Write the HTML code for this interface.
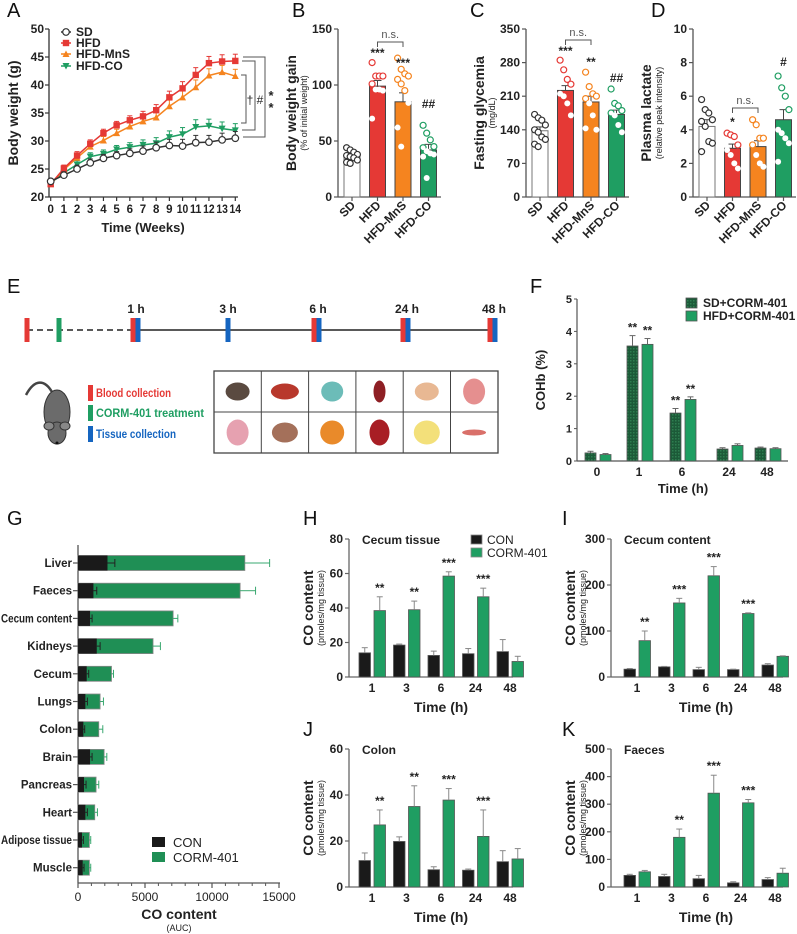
<!DOCTYPE html>
<html><head><meta charset="utf-8"><style>
html,body{margin:0;padding:0;background:#fff;}
svg{display:block;font-family:"Liberation Sans",Arial,sans-serif;}
</style></head><body>
<svg id="fig" width="797" height="934" viewBox="0 0 797 934" xmlns="http://www.w3.org/2000/svg"></svg>
<script>
// ---------- DATA ----------
const weeks=[0,1,2,3,4,5,6,7,8,9,10,11,12,13,14];
const aSD=[22.8,23.9,25.0,26.1,26.9,27.4,27.8,28.2,28.8,29.2,29.1,29.7,29.8,30.2,30.5];
const aHFD=[22.3,25.1,27.4,29.5,31.4,32.8,33.7,34.4,35.5,37.8,39.4,41.8,43.9,44.2,44.3];
const aMnS=[22.3,24.9,27.0,29.0,30.1,31.4,32.6,33.5,34.2,36.2,37.8,39.6,41.7,42.3,41.6];
const aCO=[22.5,24.3,25.8,27.2,27.7,28.5,28.9,29.3,29.6,30.7,31.2,32.5,32.7,32.2,31.9];
const aErr=[0.4,0.6,0.7,0.7,0.7,0.7,0.8,0.9,1.0,1.1,1.2,1.3,1.2,1.2,1.2];
const aTicksY=[20,25,30,35,40,45,50];
const groups4=["SD","HFD","HFD-MnS","HFD-CO"];
const bMeans=[36,99,85,42];
const bErr=[3,5,8,5];
const bPts=[[44,42,40,38,37,36,35,33,31,30],[120,108,108,108,101,96,96,95,70],[124,114,110,108,105,101,95,84,62,45],[64,57,51,45,44,41,39,38,36,17]];
const bTicks=[0,50,100,150];
const cMeans=[138,222,198,172];
const cErr=[8,10,12,9];
const cPts=[[172,165,160,150,140,135,125,120,110,105],[285,265,245,235,215,210,195,170],[260,230,215,210,205,195,170,140,143],[225,195,190,180,175,170,150,135]];
const cTicks=[0,70,140,210,280,350];
const dMeans=[4.2,2.9,3.0,4.6];
const dErr=[0.4,0.25,0.35,0.6];
const dPts=[[5.8,5.2,5.0,4.6,4.5,4.2,3.3,3.2,2.7],[3.8,3.7,3.6,3.1,2.8,2.5,2.0,1.7],[4.6,4.3,3.5,3.5,3.1,2.5,2.0,1.8],[7.2,6.5,6.0,5.2,4.0,3.8,3.5,3.2,2.1]];
const dTicks=[0,2,4,6,8,10];
const fTimes=["0","1","6","24","48"];
const fSD=[0.25,3.55,1.48,0.37,0.40];
const fSDerr=[0.05,0.32,0.14,0.04,0.03];
const fHFD=[0.20,3.60,1.90,0.48,0.38];
const fHFDerr=[0.03,0.18,0.08,0.05,0.03];
const fTicks=[0,1,2,3,4,5];
const gOrgans=["Liver","Faeces","Cecum content","Kidneys","Cecum","Lungs","Colon","Brain","Pancreas","Heart","Adipose tissue","Muscle"];
const gCON=[2200,1150,900,1400,650,550,400,900,450,550,300,350];
const gCONerr=[550,250,150,250,150,150,100,150,150,150,100,100];
const gTotal=[12450,12100,7100,5600,2500,1650,1550,1950,1350,1250,850,850];
const gTotErr=[1850,1150,350,550,150,250,300,200,200,200,100,100];
const gTicks=[0,5000,10000,15000];
const hrs=["1","3","6","24","48"];
const hCON=[14,18.5,12.5,13.5,14.7], hCONe=[3,0.6,2.5,3,7];
const hCORM=[38.5,39,58.5,46.5,9], hCORMe=[8,5,2.5,5,3];
const hStars=["**","**","***","***",""];
const iCON=[17,22,16,16,26], iCONe=[1.5,1,5,1,3];
const iCORM=[79,161,220,138,45], iCORMe=[21,10,20,1.5,1];
const iStars=["**","***","***","***",""];
const jCON=[11.5,19.8,7.5,7.3,11], jCONe=[3.3,2,1.3,0.5,4.8];
const jCORM=[27,35,37.8,22,12.2], jCORMe=[6.5,9,5,11.5,4.5];
const jStars=["**","**","***","***",""];
const kCON=[42,38,30,15,27], kCONe=[4,8,12,4,7];
const kCORM=[55,180,340,305,50], kCORMe=[5,30,65,12,18];
const kStars=["","**","***","***",""];

const RED="#e53935",ORG="#f5841f",GRN="#1f9e62",DGR="#1c5a38",BLK="#1a1a1a",GRY="#888";
const NS="http://www.w3.org/2000/svg";
const svg=document.getElementById('fig');
function mk(tag,attrs,parent){const e=document.createElementNS(NS,tag);for(const k in attrs)e.setAttribute(k,attrs[k]);(parent||svg).appendChild(e);return e;}
function txt(x,y,s,size,opts,parent){opts=opts||{};const e=mk('text',{x:x,y:y,'font-size':size,'font-weight':opts.w||'bold','text-anchor':opts.a||'middle',fill:opts.fill||'#222'},parent);if(opts.rot!==undefined)e.setAttribute('transform','rotate('+opts.rot+' '+x+' '+y+')');e.textContent=s;if(opts.max){const L=e.getComputedTextLength();if(L>opts.max){e.setAttribute('textLength',opts.max);e.setAttribute('lengthAdjust','spacingAndGlyphs');}}return e;}
function line(x1,y1,x2,y2,stroke,w,parent){return mk('line',{x1:x1,y1:y1,x2:x2,y2:y2,stroke:stroke||'#444','stroke-width':w||1.2},parent);}
function grp(name){const g=mk('g',{});return g;}
function label(ch,x,y){const t=txt(x,y,ch,20,{w:'normal',a:'start',fill:'#111'});}

// ---------- PANEL A ----------
(function(){
const g=grp('panel-a-body-weight');
const xA=w=>50.7+w*(184.6/14), yA=v=>197-(v-20)*5.6;
line(49,29,49,197,'#333',1.3,g);line(49,197,238,197,'#333',1.3,g);
aTicksY.forEach(v=>{line(45,yA(v),49,yA(v),'#333',1.2,g);const t=txt(44,yA(v)+4,String(v),12,{a:'end'},g);});
weeks.forEach(w=>{line(xA(w),197,xA(w),201,'#333',1.2,g);const t=txt(xA(w),213,String(w),11.5,{max:w>=10?11.5:20},g);});
const yt=txt(18,113,'Body weight (g)',14,{rot:-90},g);
const xt=txt(143,232,'Time (Weeks)',13,{},g);
const series=[[aCO,GRN,'tri-down','series-hfd-co'],[aMnS,ORG,'tri-up','series-hfd-mns'],[aHFD,RED,'square','series-hfd'],[aSD,'#333','circle','series-sd']];
series.forEach(s=>{
 const sg=mk('g',{},g);
 s[0].forEach((v,i)=>{line(xA(weeks[i]),yA(v),xA(weeks[i]),yA(v+aErr[i]),s[1],1,sg);line(xA(weeks[i])-2.5,yA(v+aErr[i]),xA(weeks[i])+2.5,yA(v+aErr[i]),s[1],1,sg);});
 mk('polyline',{points:s[0].map((v,i)=>xA(weeks[i])+','+yA(v)).join(' '),fill:'none',stroke:s[1],'stroke-width':1.5},sg);
 s[0].forEach((v,i)=>{const x=xA(weeks[i]),y=yA(v);marker(s[2],x,y,s[1],sg);});
});
function marker(type,x,y,c,p){
 if(type==='circle')mk('circle',{cx:x,cy:y,r:3.3,fill:'#fff',stroke:c,'stroke-width':1.2},p);
 else if(type==='square')mk('rect',{x:x-3.2,y:y-3.2,width:6.4,height:6.4,fill:c},p);
 else if(type==='tri-up')mk('polygon',{points:(x-3.5)+','+(y+3)+' '+(x+3.5)+','+(y+3)+' '+x+','+(y-3.5),fill:c},p);
 else mk('polygon',{points:(x-3.5)+','+(y-3)+' '+(x+3.5)+','+(y-3)+' '+x+','+(y+3.5),fill:c},p);
}
const leg=[['SD','#333','circle',32],['HFD',RED,'square',43],['HFD-MnS',ORG,'tri-up',54],['HFD-CO',GRN,'tri-down',66]];
leg.forEach(l=>{const lg=mk('g',{},g);line(61,l[3],71,l[3],l[1],1.5,lg);marker(l[2],66,l[3],l[1],lg);txt(76,l[3]+4,l[0],12,{a:'start'},lg);});
const br=mk('g',{},g);
mk('polyline',{points:'243,57 265,57 265,137 243,137',fill:'none',stroke:'#555','stroke-width':1},br);
mk('polyline',{points:'242,61 255,61 255,130 242,130',fill:'none',stroke:'#555','stroke-width':1},br);
mk('polyline',{points:'241,75 246,75 246,123 241,123',fill:'none',stroke:'#555','stroke-width':1},br);
txt(250,104,'†',12,{w:'normal'},br);txt(260,104,'#',12,{w:'normal'},br);txt(271,100,'*',13,{},br);txt(271,112,'*',13,{},br);
})();

// ---------- PANELS B C D ----------
function scatterBar(name,ax,means,errs,pts,ticks,max,ytitle,ysub,stars,ns){
 const g=grp(name);
 const y0=197,yt=29,ys=v=>y0-(v/max)*(y0-yt);
 const cols=['#fff',RED,ORG,GRN],ptc=['#333',RED,ORG,GRN];
 line(ax,yt,ax,y0,'#555',1.3,g);line(ax,y0,ax+103,y0,'#555',1.3,g);
 ticks.forEach(v=>{line(ax-4,ys(v),ax,ys(v),'#555',1.2,g);const t=txt(ax-6,ys(v)+4,String(v),12,{a:'end'},g);});
 means.forEach((m,i)=>{
  const cx=ax+14+i*25.5;
  const b=mk('rect',{x:cx-8,y:ys(m),width:16,height:y0-ys(m),fill:cols[i],stroke:i===0?'#777':'#444','stroke-width':1},g);
  
  
  line(cx,ys(m),cx,ys(m+errs[i]),'#444',1,g);line(cx-4,ys(m+errs[i]),cx+4,ys(m+errs[i]),'#444',1,g);
  pts[i].forEach((p,j)=>{const off=((j%4)-1.5)*3.6;const inside=p<m&&i>0;mk('circle',{cx:cx+off,cy:ys(p),r:3,fill:'#fff',stroke:inside?'none':ptc[i],'stroke-width':1.2},g);});
  line(cx,y0,cx,y0+4,'#555',1.2,g);
  const t=txt(cx+4,y0+9,groups4[i],12,{a:'end',rot:-45},g);
  if(stars[i]){const s=txt(cx,stars[i][1],stars[i][0],12,{},g);}
 });
 const t1=txt(ax-42,113,ytitle,14,{rot:-90},g);
 const t2=txt(ax-31,113,ysub,9,{rot:-90,w:'normal'},g);
 const x1=ax+14+ns[0]*25.5,x2=ax+14+ns[1]*25.5;
 mk('polyline',{points:x1+','+(ns[2]+5)+' '+x1+','+ns[2]+' '+x2+','+ns[2]+' '+x2+','+(ns[2]+5),fill:'none',stroke:'#555','stroke-width':1},g);
 txt((x1+x2)/2,ns[2]-4,'n.s.',11,{w:'normal',fill:'#555'},g);
}
scatterBar('panel-b-weight-gain',338,bMeans,bErr,bPts,bTicks,150,'Body weight gain','(% of initial weight)',[null,['***',57],['***',67],['##',108]],[1,2,42]);
scatterBar('panel-c-glycemia',526,cMeans,cErr,cPts,cTicks,350,'Fasting glycemia','(mg/dL)',[null,['***',55],['**',66],['##',82]],[1,2,40]);
scatterBar('panel-d-lactate',693,dMeans,dErr,dPts,dTicks,10,'Plasma lactate','(relative peak intensity)',[null,['*',126],null,['#',66]],[1,2,108]);

// ---------- PANEL E ----------
(function(){
const g=grp('panel-e-protocol');
const dl=line(27,330,134,330,'#222',1.5,g);dl.setAttribute('stroke-dasharray','6 4');
line(134,330,493,330,'#222',1.5,g);
const marks=[[27,RED],[59,GRN],[133,RED],[138,'#1565c0'],[228,'#1565c0'],[314,RED],[319,'#1565c0'],[403,RED],[408,'#1565c0'],[490,RED],[495,'#1565c0']];
marks.forEach(m=>{const r=mk('rect',{x:m[0]-2.5,y:318,width:5,height:24,fill:m[1]},g);});
[['1 h',136],['3 h',228],['6 h',318],['24 h',407],['48 h',494]].forEach(l=>{const t=txt(l[1],313,l[0],12,{},g);});
const ms=mk('g',{},g);
mk('path',{d:'M52,392 C45,380 35,378 26,395',fill:'none',stroke:'#444','stroke-width':2.5},ms);
mk('ellipse',{cx:57,cy:412,rx:13,ry:22,fill:'#6b6b6b',stroke:'#333'},ms);
mk('ellipse',{cx:57,cy:433,rx:9,ry:11,fill:'#6b6b6b',stroke:'#333'},ms);
mk('ellipse',{cx:49,cy:426,rx:5,ry:4,fill:'#888',stroke:'#333'},ms);mk('ellipse',{cx:65,cy:426,rx:5,ry:4,fill:'#888',stroke:'#333'},ms);
mk('circle',{cx:57,cy:443,r:1.5,fill:'#111'},ms);
[['Blood collection',RED,385,75],['CORM-401 treatment',GRN,405,108],['Tissue collection','#1565c0',426,80]].forEach(l=>{const lg=mk('g',{},g);mk('rect',{x:88,y:l[2],width:5,height:16,fill:l[1]},lg);txt(96,l[2]+12,l[0],12,{a:'start',fill:l[1],max:l[3]},lg);});
const og=mk('g',{},g);
mk('rect',{x:214,y:371,width:284,height:82,fill:'#fff',stroke:'#444','stroke-width':1.3},og);
for(let i=1;i<6;i++)line(214+i*47.3,371,214+i*47.3,453,'#444',1,og);
line(214,412,498,412,'#444',1,og);
const oc=[['#5a4a40',12,9],['#b8382c',14,8],['#6cbcb8',11,10],['#8e1f24',6,11],['#e8b893',12,9],['#e58f8f',11,13],['#e6a1b0',11,13],['#a4705a',13,10],['#e98a2a',12,12],['#a81e24',10,13],['#f3e07a',13,12],['#d9706a',12,3]];
oc.forEach((o,i)=>{const c=i%6,r=Math.floor(i/6);mk('ellipse',{cx:237.6+c*47.3,cy:391.5+r*41,rx:o[1],ry:o[2],fill:o[0]},og);});
})();

// ---------- PANEL F ----------
(function(){
const g=grp('panel-f-cohb');
const ax=577,y0=461,ys=v=>y0-v*32.4;
const centers=[598,640,683,730,768];
const pat=mk('pattern',{id:'hatch',width:3,height:3,patternUnits:'userSpaceOnUse'},mk('defs',{}));
mk('rect',{width:3,height:3,fill:DGR},pat);mk('rect',{width:1.5,height:1.5,fill:'#2e7d50'},pat);
line(ax,299,ax,y0,'#555',1.2,g);line(ax,y0,788,y0,'#555',1.2,g);
fTicks.forEach(v=>{line(ax-3,ys(v),ax,ys(v),'#555',1,g);const t=txt(ax-5,ys(v)+4,String(v),11,{a:'end'},g);});
fTimes.forEach((tm,i)=>{const c=centers[i];
 const b1=mk('rect',{x:c-13,y:ys(fSD[i]),width:11,height:y0-ys(fSD[i]),fill:'url(#hatch)',stroke:'#555','stroke-width':0.8},g);
 
 
 const b2=mk('rect',{x:c+2,y:ys(fHFD[i]),width:11,height:y0-ys(fHFD[i]),fill:GRN,stroke:'#555','stroke-width':0.8},g);
 
 
 [[c-7.5,fSD[i],fSDerr[i]],[c+7.5,fHFD[i],fHFDerr[i]]].forEach(e=>{line(e[0],ys(e[1]),e[0],ys(e[1]+e[2]),'#666',1,g);line(e[0]-3,ys(e[1]+e[2]),e[0]+3,ys(e[1]+e[2]),'#666',1,g);});
 const t=txt(c-1,476,tm,12,{},g);
});
[[0,1],[1,1],[0,2],[1,2]].forEach(p=>{const v=p[0]?fHFD[p[1]]+fHFDerr[p[1]]:fSD[p[1]]+fSDerr[p[1]];const s=txt(centers[p[1]]+(p[0]?7.5:-7.5),ys(v)-4,'**',12,{},g);});
const yt=txt(545,380,'COHb (%)',13,{rot:-90},g);
const xt=txt(683,493,'Time (h)',13,{},g);
const l1=mk('g',{},g);
mk('rect',{x:686,y:298,width:11,height:10,fill:'url(#hatch)',stroke:'#555','stroke-width':0.8},l1);txt(703,307,'SD+CORM-401',12,{a:'start'},l1);
const l2=mk('g',{},g);
mk('rect',{x:686,y:311,width:11,height:10,fill:GRN,stroke:'#555','stroke-width':0.8},l2);txt(703,320,'HFD+CORM-401',12,{a:'start'},l2);
})();

// ---------- PANEL G ----------
(function(){
const g=grp('panel-g-co-auc');
const ax=78,xs=v=>ax+v*(201/15000),yc=i=>563+i*27.7;
line(ax,545,ax,883,'#555',1.3,g);line(ax,883,280,883,'#555',1.3,g);
gTicks.forEach(v=>{line(xs(v),883,xs(v),888,'#555',1.2,g);const t=txt(xs(v),901,String(v),12,{w:'normal'},g);});
for(let v=1000;v<15000;v+=1000)if(v%5000)line(xs(v),883,xs(v),886,'#555',1,g);
gOrgans.forEach((o,i)=>{const y=yc(i);
 const bt=mk('rect',{x:ax,y:y-7.5,width:xs(gTotal[i])-ax,height:15,fill:'#1f8f55',stroke:'#888','stroke-width':0.8},g);
 
 
 const bc=mk('rect',{x:ax,y:y-7.5,width:xs(gCON[i])-ax,height:15,fill:BLK},g);
 
 
 line(xs(gTotal[i]),y,xs(gTotal[i]+gTotErr[i]),y,'#3aa870',1,g);line(xs(gTotal[i]+gTotErr[i]),y-4,xs(gTotal[i]+gTotErr[i]),y+4,'#3aa870',1,g);
 line(xs(gCON[i]),y,xs(gCON[i]+gCONerr[i]),y,'#222',1,g);line(xs(gCON[i]+gCONerr[i]),y-4,xs(gCON[i]+gCONerr[i]),y+4,'#222',1,g);
 line(ax-5,y,ax,y,'#555',1.2,g);
 const t=txt(72,y+4,o,11.5,{a:'end',max:71},g);
});
const xt=txt(179,919,'CO content',14,{},g);
const xs2=txt(179,931,'(AUC)',9,{w:'normal'},g);
const l1=mk('g',{},g);
mk('rect',{x:152,y:837,width:13,height:10,fill:BLK},l1);txt(173,847,'CON',13,{a:'start',w:'normal'},l1);
const l2=mk('g',{},g);
mk('rect',{x:152,y:852,width:13,height:10,fill:'#1f8f55'},l2);txt(173,862,'CORM-401',13,{a:'start',w:'normal'},l2);
})();

// ---------- PANELS H I J K ----------
function timeBars(name,ax,ytop,y0,xEnd,max,ticks,con,cone,corm,corme,stars,title,cx0){
 const g=grp(name);
 const ys=v=>y0-(v/max)*(y0-ytop);
 line(ax,ytop,ax,y0,'#666',1.3,g);line(ax,y0,xEnd,y0,'#666',1.3,g);
 ticks.forEach(v=>{line(ax-4,ys(v),ax,ys(v),'#666',1.2,g);const t=txt(ax-6,ys(v)+4,String(v),12,{a:'end'},g);});
 hrs.forEach((h,i)=>{const c=cx0+i*34.5;
  const b1=mk('rect',{x:c-13,y:ys(con[i]),width:11.5,height:y0-ys(con[i]),fill:BLK,stroke:'#555','stroke-width':0.8},g);
  
  
  const b2=mk('rect',{x:c+2,y:ys(corm[i]),width:11.5,height:y0-ys(corm[i]),fill:GRN,stroke:'#555','stroke-width':0.8},g);
  
  
  [[c-7.25,con[i],cone[i]],[c+7.75,corm[i],corme[i]]].forEach(e=>{line(e[0],ys(e[1]),e[0],ys(e[1]+e[2]),'#888',1,g);line(e[0]-3,ys(e[1]+e[2]),e[0]+3,ys(e[1]+e[2]),'#888',1,g);});
  if(stars[i]){const s=txt(c+7.75,ys(corm[i]+corme[i])-5,stars[i],12,{},g);}
  const t=txt(c,y0+15,h,12,{},g);
 });
 const yt=txt(ax-36,(ytop+y0)/2,'CO content',14,{rot:-90},g);
 const ysb=txt(ax-25,(ytop+y0)/2,'(pmoles/mg tissue)',9,{rot:-90,w:'normal'},g);
 const xt=txt(cx0+69,y0+35,'Time (h)',14,{},g);
 const tt=txt(ax+13,ytop+5,title,12,{a:'start'},g);
 return g;
}
const hG=timeBars('panel-h-cecum-tissue',349,539,677,513,80,[0,20,40,60,80],hCON,hCONe,hCORM,hCORMe,hStars,'Cecum tissue',372);
const l1=mk('g',{},hG);
mk('rect',{x:471,y:535,width:11,height:9,fill:BLK,stroke:'#888','stroke-width':0.8},l1);txt(487,544,'CON',12,{a:'start',w:'normal'},l1);
const l2=mk('g',{},hG);
mk('rect',{x:471,y:548,width:11,height:9,fill:GRN,stroke:'#888','stroke-width':0.8},l2);txt(487,557,'CORM-401',12,{a:'start',w:'normal'},l2);
timeBars('panel-i-cecum-content',611,539,677,783,300,[0,100,200,300],iCON,iCONe,iCORM,iCORMe,iStars,'Cecum content',637);
timeBars('panel-j-colon',349,749,887,513,60,[0,20,40,60],jCON,jCONe,jCORM,jCORMe,jStars,'Colon',372);
timeBars('panel-k-faeces',611,749,887,783,500,[0,100,200,300,400,500],kCON,kCONe,kCORM,kCORMe,kStars,'Faeces',637);

label('A',7,17);label('B',292,17);label('C',470,17);label('D',651,17);
label('E',7,293);label('F',530,293);label('G',7,525);label('H',303,525);label('I',562,525);label('J',303,736);label('K',562,736);
</script>
</body></html>
